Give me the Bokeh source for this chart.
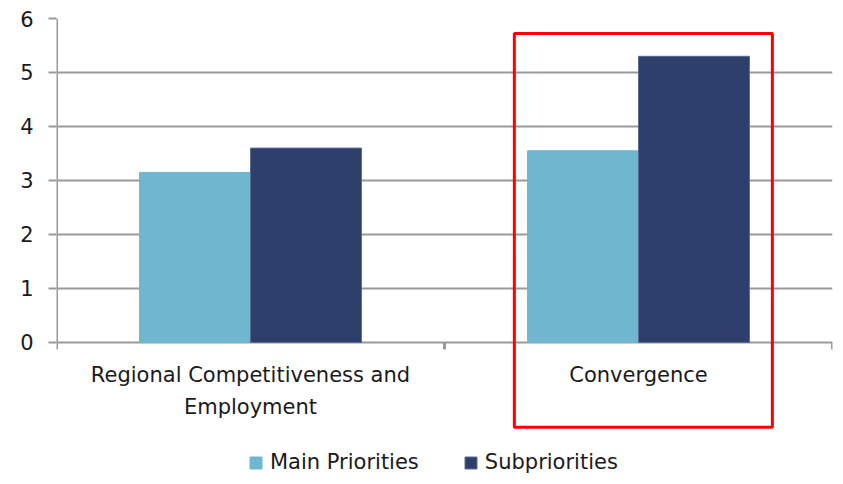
import math
from bokeh.plotting import figure
from bokeh.models import (Range1d, LinearAxis, FixedTicker, Legend, LegendItem,
                          BoxAnnotation, ColumnDataSource)
from bokeh.transform import dodge
from bokeh.core.properties import value
from bokeh.embed import file_html
from bokeh.resources import INLINE

categories = ["Regional Competitiveness and\nEmployment", "Convergence"]
main_priorities = [3.15, 3.55]
subpriorities = [3.6, 5.3]
y_ticks = [0, 1, 2, 3, 4, 5, 6]

FONT = "DejaVu Sans"
FS = "21px"
TXT = "#1a1a1a"
GRID = "#9a9a9a"
LIGHT = "#6fb7ce"
DARK = "#2f3f6b"

n = len(categories)
centers = [i + 0.5 for i in range(n)]
bounds = list(range(n + 1))
src = ColumnDataSource(dict(x=centers, main=main_priorities, sub=subpriorities, label=categories))

# frame also hosts the category labels and the legend below the zero line
p = figure(frame_width=776, frame_height=464, x_range=Range1d(0, n),
           y_range=Range1d(-2.593, 6), output_backend="svg", toolbar_location=None,
           x_axis_location=None, y_axis_location=None)
p.outline_line_color = None
p.min_border_left = 56
p.min_border_top = 18
p.min_border_right = 3
p.min_border_bottom = 0
p.background_fill_color = "white"

# y axis (ticks + labels only; line drawn as a glyph so it stops at 0)
yax = LinearAxis(ticker=FixedTicker(ticks=y_ticks))
yax.axis_line_color = None
yax.major_tick_line_color = GRID
yax.major_tick_line_width = 2
yax.major_tick_out = 8
yax.major_tick_in = 0
yax.minor_tick_line_color = None
yax.major_label_text_font = FONT
yax.major_label_text_font_size = FS
yax.major_label_text_color = TXT
yax.major_label_standoff = 15
p.add_layout(yax, "left")

p.ygrid.ticker = FixedTicker(ticks=y_ticks)
p.ygrid.grid_line_color = GRID
p.ygrid.grid_line_width = 2
p.xgrid.grid_line_color = None

# y axis line and x boundary ticks
p.segment(x0=[bounds[0]], y0=[y_ticks[0]], x1=[bounds[0]], y1=[y_ticks[-1]],
          line_color=GRID, line_width=3)
p.ray(x=bounds, y=[0] * len(bounds), length=7, length_units="screen",
      angle=-math.pi / 2, line_color=GRID, line_width=3)

r1 = p.vbar(x=dodge("x", -0.143), top="main", width=0.286, source=src,
            fill_color=LIGHT, line_color=LIGHT)
r2 = p.vbar(x=dodge("x", 0.143), top="sub", width=0.286, source=src,
            fill_color=DARK, line_color="#5a6a90", line_width=1)

# category labels under the zero line
p.text(x="x", y=0, text="label", source=src, y_offset=21,
       text_font=value(FONT), text_font_size=FS, text_color=TXT,
       text_align="center", text_baseline="top", text_line_height=1.31)

# highlight box around "Convergence"
box = BoxAnnotation(left=1.18, right=1.845, bottom=-1.57, top=5.72,
                    fill_color=None, fill_alpha=0, line_color="#ff0000",
                    line_alpha=1, line_width=3)
p.add_layout(box)

legend = Legend(items=[LegendItem(label="Main Priorities", renderers=[r1]),
                       LegendItem(label="Subpriorities", renderers=[r2])],
                orientation="horizontal", location=(192, 8))
legend.border_line_color = None
legend.background_fill_alpha = 0
legend.label_text_font = FONT
legend.label_text_font_size = FS
legend.label_text_color = TXT
legend.glyph_width = 15
legend.glyph_height = 15
legend.label_standoff = 7
legend.spacing = 44
legend.margin = 0
legend.padding = 0
p.add_layout(legend, "center")

open("out.html", "w").write(file_html(p, INLINE))
